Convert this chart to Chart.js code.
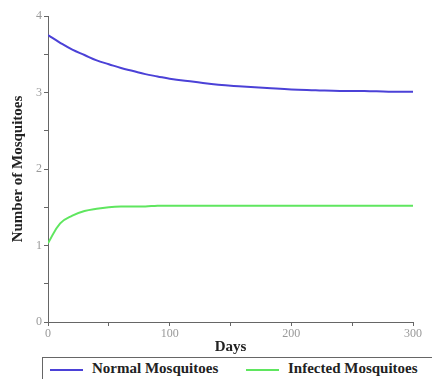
<!DOCTYPE html>
<html>
<head>
<meta charset="utf-8">
<script src="https://cdn.jsdelivr.net/npm/chart.js@4.4.0/dist/chart.umd.min.js"></script>
<style>
  html, body { margin: 0; padding: 0; background: #fff; overflow: hidden; }
  #wrap { position: relative; width: 432px; height: 379px; overflow: hidden; }
  #plot { position: absolute; left: 0; top: 0; width: 432px; height: 356px; }
  #legend {
    position: absolute; left: 42px; top: 357px; width: 430px; height: 23px;
    border: 1px solid #666; box-sizing: border-box; white-space: nowrap;
    font: bold 15px 'Liberation Serif', 'DejaVu Serif', serif; color: #222;
  }
  #legend span.item { position: absolute; top: 2px; }
  #legend span.line { display: inline-block; width: 33px; height: 2px; vertical-align: middle; margin-right: 9px; }
</style>
</head>
<body>
<div id="wrap">
  <div id="plot"><canvas id="chart"></canvas></div>
  <div id="legend"></div>
</div>
<script>
// values
const days = [0, 10, 20, 30, 40, 50, 60, 70, 80, 90, 100, 120, 140, 160, 180, 200, 220, 240, 260, 280, 300];
const normalMosquitoes = [3.75, 3.65, 3.56, 3.49, 3.42, 3.37, 3.32, 3.28, 3.24, 3.21, 3.18, 3.14, 3.10, 3.08, 3.06, 3.04, 3.03, 3.02, 3.02, 3.01, 3.01];
const infectedMosquitoes = [1.03, 1.29, 1.39, 1.45, 1.48, 1.50, 1.51, 1.51, 1.51, 1.52, 1.52, 1.52, 1.52, 1.52, 1.52, 1.52, 1.52, 1.52, 1.52, 1.52, 1.52];
const yTickLabels = [0, 1, 2, 3, 4];
const xTickLabels = [0, 100, 200, 300];

const serif = "'Liberation Serif', 'DejaVu Serif', serif";

function toPoints(ys) {
  return days.map((d, i) => ({ x: d, y: ys[i] }));
}

const ctx = document.getElementById("chart");
let chart = new Chart(ctx, {
  type: "line",
  data: {
    datasets: [
      {
        label: "Normal Mosquitoes",
        data: toPoints(normalMosquitoes),
        borderColor: "rgb(75, 65, 215)",
        borderWidth: 2,
        pointRadius: 0,
        tension: 0.4,
        fill: false,
      },
      {
        label: "Infected Mosquitoes",
        data: toPoints(infectedMosquitoes),
        borderColor: "rgb(95, 230, 95)",
        borderWidth: 2,
        pointRadius: 0,
        tension: 0.4,
        fill: false,
      },
    ],
  },
  options: {
    responsive: true,
    maintainAspectRatio: false,
    animation: false,
    layout: { padding: { left: 4, right: 19, top: 16, bottom: 0 } },
    plugins: {
      tooltip: { enabled: false },
      legend: { display: false },
    },
    scales: {
      x: {
        type: "linear",
        min: 0,
        max: 300,
        border: { color: "#666", width: 1 },
        grid: { drawOnChartArea: false, color: "#666", tickLength: 4 },
        ticks: {
          stepSize: 50,
          color: "#999",
          font: { family: serif, size: 12 },
          padding: 1,
          maxRotation: 0,
          callback: (v) => (xTickLabels.includes(v) ? v : ""),
        },
        title: {
          display: true,
          text: "Days",
          color: "#222",
          font: { family: serif, size: 15, weight: "bold" },
          padding: { top: -3, bottom: 0 },
        },
        afterFit: (scale) => { scale.height = 34; },
      },
      y: {
        min: 0,
        max: 4,
        border: { color: "#666", width: 1 },
        grid: { drawOnChartArea: false, color: "#666", tickLength: 4 },
        ticks: {
          stepSize: 0.5,
          color: "#999",
          font: { family: serif, size: 12 },
          padding: 2,
          callback: (v) => (yTickLabels.includes(v) ? v : ""),
        },
        title: {
          display: true,
          text: "Number of Mosquitoes",
          color: "#222",
          font: { family: serif, size: 15, weight: "bold" },
          padding: { top: 5, bottom: 0 },
        },
        afterFit: (scale) => { scale.width = 44; },
      },
    },
  },
});

// legend drawn as html under the canvas, with a box like the original
const legendEl = document.getElementById("legend");
const legendLeft = [7, 203];
chart.data.datasets.forEach((ds, i) => {
  const item = document.createElement("span");
  item.className = "item";
  item.style.left = legendLeft[i] + "px";
  item.innerHTML = '<span class="line" style="background:' + ds.borderColor + '"></span>' + ds.label;
  legendEl.appendChild(item);
});
</script>
</body>
</html>
